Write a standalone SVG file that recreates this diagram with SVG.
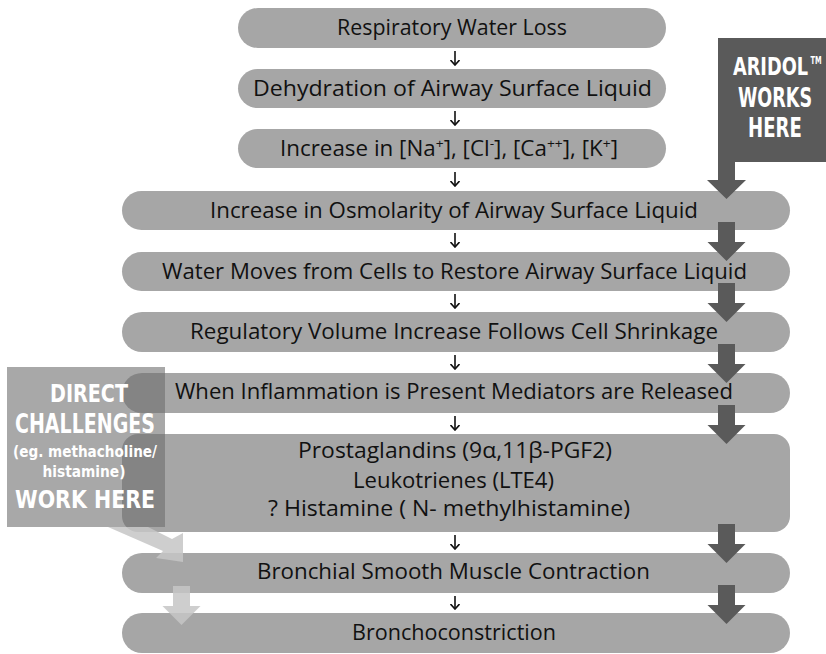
<svg xmlns="http://www.w3.org/2000/svg" xmlns:xlink="http://www.w3.org/1999/xlink" width="826" height="654" viewBox="0 0 826 654">
  <style>
    .pill { fill: #a6a6a6; }
    .t { font-family: "Open Sans", "Liberation Sans", sans-serif; font-size: 21px; fill: #111; text-anchor: middle; }
    .w { font-family: "DejaVu Sans Condensed", "Liberation Sans", sans-serif; font-weight: bold; fill: #ffffff; text-anchor: middle; }
    .thin { stroke: #111; stroke-width: 1.6; fill: none; marker-end: url(#chev); }
    .dark { fill: #5a5a5a; }
    .light { fill: #c6c6c6; opacity: 0.85; }
  </style>
  <defs>
    <marker id="chev" viewBox="0 0 6 10" refX="5.5" refY="5" markerWidth="6" markerHeight="10" markerUnits="userSpaceOnUse" orient="auto">
      <path d="M0.5,0.5 L5.5,5 L0.5,9.5" fill="none" stroke="#111" stroke-width="1.6"/>
    </marker>
    <path id="darr" d="M-8.5,0 H8.5 V20 H19 L0,39 L-19,20 H-8.5 Z"/>
  </defs>
  <rect width="826" height="654" fill="#ffffff"/>

  <g id="n1"><rect class="pill" x="238" y="8" width="428" height="40" rx="20"/>
    <text class="t" x="452" y="35" textLength="230" lengthAdjust="spacingAndGlyphs">Respiratory Water Loss</text></g>
  <g id="n2"><rect class="pill" x="238" y="69" width="428" height="39" rx="19.5"/>
    <text class="t" x="452.5" y="95.5" textLength="399" lengthAdjust="spacingAndGlyphs">Dehydration of Airway Surface Liquid</text></g>
  <g id="n3"><rect class="pill" x="238" y="129" width="428" height="39" rx="19.5"/>
    <text class="t" x="449" y="156" textLength="338" lengthAdjust="spacingAndGlyphs">Increase in [Na<tspan font-size="13" dy="-8">+</tspan><tspan dy="8">], [Cl</tspan><tspan font-size="13" dy="-8">-</tspan><tspan dy="8">], [Ca</tspan><tspan font-size="13" dy="-8">++</tspan><tspan dy="8">], [K</tspan><tspan font-size="13" dy="-8">+</tspan><tspan dy="8">]</tspan></text></g>
  <g id="n4"><rect class="pill" x="122" y="191" width="668" height="39" rx="19.5"/>
    <text class="t" x="454" y="217.5" textLength="488" lengthAdjust="spacingAndGlyphs">Increase in Osmolarity of Airway Surface Liquid</text></g>
  <g id="n5"><rect class="pill" x="122" y="252" width="668" height="39" rx="19.5"/>
    <text class="t" x="454.5" y="278.5" textLength="585" lengthAdjust="spacingAndGlyphs">Water Moves from Cells to Restore Airway Surface Liquid</text></g>
  <g id="n6"><rect class="pill" x="122" y="312" width="668" height="40" rx="20"/>
    <text class="t" x="454" y="339" textLength="528" lengthAdjust="spacingAndGlyphs">Regulatory Volume Increase Follows Cell Shrinkage</text></g>
  <g id="n7"><rect class="pill" x="122" y="373" width="668" height="40" rx="20"/>
    <text class="t" x="454" y="399" textLength="558" lengthAdjust="spacingAndGlyphs">When Inflammation is Present Mediators are Released</text></g>
  <g id="n8"><rect class="pill" x="122" y="434" width="668" height="98" rx="16"/>
    <text class="t" x="455" y="458" textLength="314" lengthAdjust="spacingAndGlyphs">Prostaglandins (9α,11β-PGF2)</text>
    <text class="t" x="453.5" y="488" textLength="201" lengthAdjust="spacingAndGlyphs">Leukotrienes (LTE4)</text>
    <text class="t" x="449" y="516" textLength="362" lengthAdjust="spacingAndGlyphs">? Histamine ( N- methylhistamine)</text></g>
  <g id="n9"><rect class="pill" x="122" y="553" width="668" height="40" rx="20"/>
    <text class="t" x="453.5" y="579" textLength="393" lengthAdjust="spacingAndGlyphs">Bronchial Smooth Muscle Contraction</text></g>
  <g id="n10"><rect class="pill" x="122" y="613" width="668" height="40" rx="20"/>
    <text class="t" x="454" y="639.5" textLength="204" lengthAdjust="spacingAndGlyphs">Bronchoconstriction</text></g>

  <g id="connectors">
    <path class="thin" d="M455,51 V65"/>
    <path class="thin" d="M455,111 V125"/>
    <path class="thin" d="M455,172 V186"/>
    <path class="thin" d="M455,233 V247"/>
    <path class="thin" d="M455,294 V308"/>
    <path class="thin" d="M455,355 V369"/>
    <path class="thin" d="M455,416 V430"/>
    <path class="thin" d="M455,535 V549"/>
    <path class="thin" d="M455,596 V609"/>
  </g>

  <g id="aridol">
    <path class="dark" d="M718,38 H826 V162 H735 V180 H746 L726.5,199 L707,180 H718 Z"/>
    <text class="w" transform="translate(770.5,75) scale(0.8,1)" x="0" y="0" font-size="25" textLength="94" lengthAdjust="spacingAndGlyphs">ARIDOL</text>
    <text class="w" transform="translate(816,64) scale(0.8,1)" x="0" y="0" font-size="10" textLength="14" lengthAdjust="spacingAndGlyphs">TM</text>
    <text class="w" transform="translate(775,107) scale(0.78,1)" x="0" y="0" font-size="26" textLength="95" lengthAdjust="spacingAndGlyphs">WORKS</text>
    <text class="w" transform="translate(775,137) scale(0.78,1)" x="0" y="0" font-size="26" textLength="69" lengthAdjust="spacingAndGlyphs">HERE</text>
  </g>
  <g id="aridol-arrows" class="dark">
    <use xlink:href="#darr" x="726.5" y="222"/>
    <use xlink:href="#darr" x="726.5" y="283"/>
    <use xlink:href="#darr" x="726.5" y="344"/>
    <use xlink:href="#darr" x="726.5" y="405"/>
    <use xlink:href="#darr" x="726.5" y="524"/>
    <use xlink:href="#darr" x="726.5" y="585"/>
  </g>

  <g id="direct">
    <rect x="7" y="367" width="158" height="160" fill="#6e6e6e" opacity="0.6"/>
    <text class="w" x="89" y="402" font-size="24" textLength="78" lengthAdjust="spacingAndGlyphs">DIRECT</text>
    <text class="w" x="85" y="433" font-size="27" textLength="140" lengthAdjust="spacingAndGlyphs">CHALLENGES</text>
    <text class="w" x="85" y="457" font-size="15" textLength="144" lengthAdjust="spacingAndGlyphs">(eg. methacholine/</text>
    <text class="w" x="84" y="477" font-size="15" textLength="83" lengthAdjust="spacingAndGlyphs">histamine)</text>
    <text class="w" x="85" y="508" font-size="25" textLength="140" lengthAdjust="spacingAndGlyphs">WORK HERE</text>
  </g>
  <g id="direct-arrows">
    <path class="light" d="M108,527 L148,527 L172,539 L183,533 L183,562 L156,558 L163,551 Z"/>
    <use class="light" xlink:href="#darr" x="181.5" y="586"/>
  </g>
</svg>
